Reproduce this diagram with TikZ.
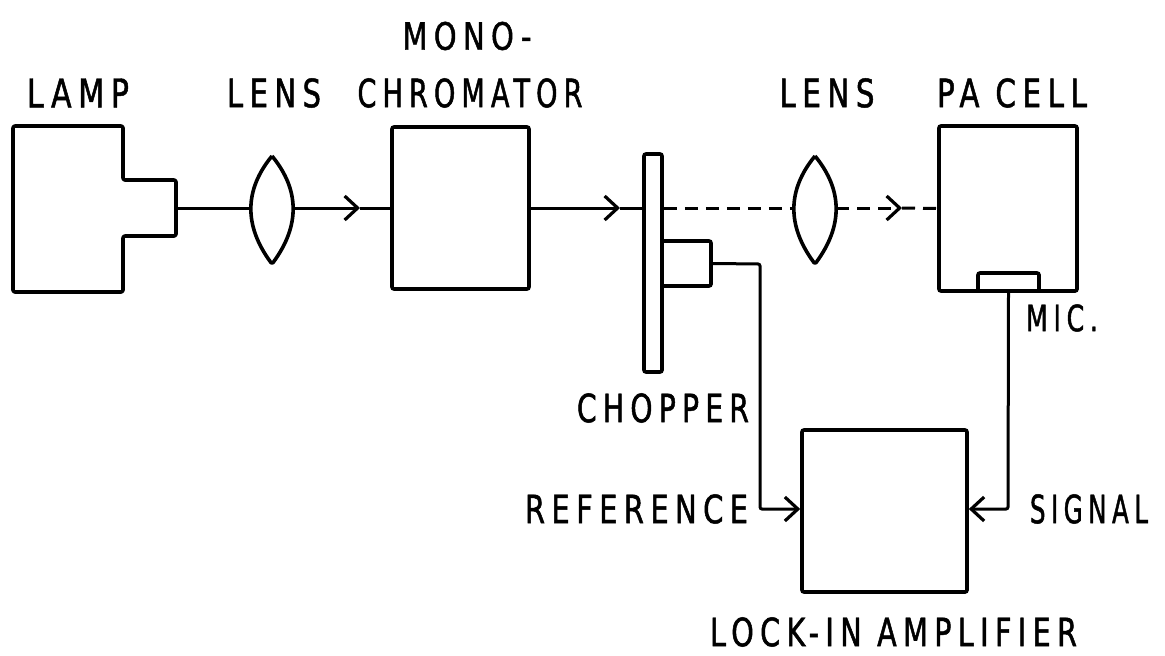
\documentclass[tikz,border=0pt]{standalone}
\usepackage{fontspec}
\usepackage{graphicx}
\usetikzlibrary{arrows.meta}
\newfontfamily\lblfont[FakeStretch=0.72,LetterSpace=16,FakeBold=1.2]{DejaVu Sans}
\newcommand{\fitlbl}[3]{\resizebox{#1pt}{#2pt}{\lblfont #3}}
\begin{document}
\begin{tikzpicture}[x=1pt,y=-1pt,
  box/.style={draw,line width=3.6pt,rounded corners=2pt,inner sep=0pt,fill=white},
  outline/.style={line width=3.6pt,rounded corners=2pt,line join=round},
  wire/.style={line width=3pt},
  beam/.style={wire,dash pattern=on 13pt off 8pt},
  barb/.style={-{Straight Barb[length=13pt,width=24pt,line width=3.2pt]}},
  lbl/.style={inner sep=0pt,anchor=center}]
\fill[white] (0,0) rectangle (1165,656);
\useasboundingbox (0,0) rectangle (1165,656);
% lamp
\draw[outline] (13,126) -- (123,126) -- (123,180) -- (176,180) -- (176,236) -- (123,236) -- (123,292) -- (13,292) -- cycle;
\coordinate (lamp) at (176,208);
% lens 1
\draw[outline] (272,156) .. controls (244,190) and (244,226) .. (272,264) .. controls (300,226) and (300,190) .. (272,156);
\coordinate (lens1w) at (251,208);
\coordinate (lens1e) at (293,208);
% monochromator
\node[box,minimum width=137pt,minimum height=162pt] (mono) at (460.5,208) {};
% chopper
\node[box,minimum width=49pt,minimum height=45pt] (motor) at (686.5,263.5) {};
\node[box,minimum width=18pt,minimum height=218pt] (plate) at (653,263) {};
% lens 2
\draw[outline] (815,156) .. controls (787,190) and (787,226) .. (815,264) .. controls (843,226) and (843,190) .. (815,156);
\coordinate (lens2w) at (794,208);
\coordinate (lens2e) at (836,208);
% PA cell and mic
\node[box,minimum width=138pt,minimum height=165pt] (pa) at (1008,208.5) {};
\node[draw,line width=3.6pt,rounded corners=2pt,inner sep=0pt,minimum width=61pt,minimum height=18pt] (mic) at (1008.5,282) {};
% lock-in
\node[box,minimum width=165pt,minimum height=162pt] (lockin) at (884.5,511) {};
% arrow points
\coordinate (a1) at (360,208);
\coordinate (a2) at (620,208);
\coordinate (a3) at (902,208);
\coordinate (r1) at (760,264);
\coordinate (r2) at (760,509);
\coordinate (s1) at (1008,509);
% beam
\draw[wire] (lamp) -- (lens1w);
\draw[wire,barb] (lens1e) -- (a1);
\draw[wire] (a1) -- (mono.west);
\draw[wire,barb] (mono.east) -- (a2);
\draw[wire] (a2) -- (a2 -| plate.west);
\draw[beam] (lens2w -| plate.east) -- (lens2w);
\draw[beam,barb] (lens2e) -- (a3);
\draw[beam] (a3) -- (pa.west);
% signal wires
\draw[wire,barb,rounded corners=2pt] (motor.east) -- (r1) -- (r2) -- (r2 -| lockin.west);
\draw[wire,barb,rounded corners=2pt] (mic.south) -- (s1) -- (s1 -| lockin.east);
% labels
\node[lbl] (tlamp) at (78,93) {\fitlbl{102}{29}{LAMP}};
\node[lbl] (tlens1) at (274,93) {\fitlbl{94}{29}{LENS}};
\node[lbl] (tmono) at (467,36) {\fitlbl{129}{28}{MONO-}};
\node[lbl] (tchrom) at (470,93) {\fitlbl{225}{29}{CHROMATOR}};
\node[lbl] (tlens2) at (827,93) {\fitlbl{95}{29}{LENS}};
\node[lbl] (tpa) at (1012,93) {\fitlbl{150}{29}{PA CELL}};
\node[lbl] (tchop) at (663,408) {\fitlbl{172}{29}{CHOPPER}};
\node[lbl] (tmic) at (1062,318) {\fitlbl{72}{27}{MIC.}};
\node[lbl] (tref) at (636.5,509) {\fitlbl{223}{29}{REFERENCE}};
\node[lbl] (tsig) at (1089,509) {\fitlbl{118}{29}{SIGNAL}};
\node[lbl] (tlock) at (893.5,632) {\fitlbl{367}{29}{LOCK-IN AMPLIFIER}};
\end{tikzpicture}
\end{document}
